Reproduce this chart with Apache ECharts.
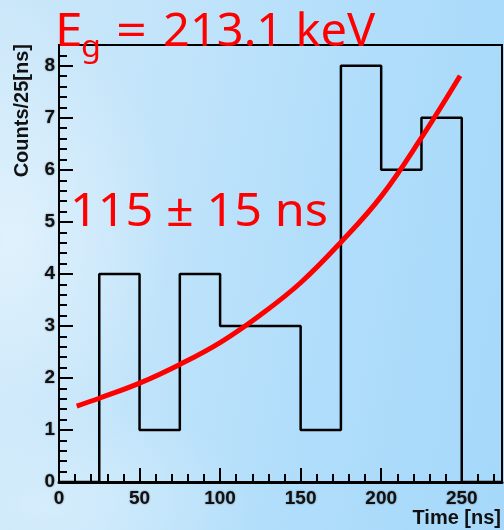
<!DOCTYPE html>
<html>
<head>
<meta charset="utf-8">
<title>Time spectrum</title>
<script src="https://cdn.jsdelivr.net/npm/echarts@6/dist/echarts.min.js"></script>
<style>
  html, body { margin: 0; padding: 0; }
  body {
    width: 504px; height: 530px; overflow: hidden;
    background:
      radial-gradient(ellipse 160px 240px at 10px 240px, rgba(232,245,253,0.75), rgba(232,245,253,0) 100%),
      radial-gradient(ellipse 200px 110px at 50px 505px, rgba(222,241,252,0.65), rgba(222,241,252,0) 100%),
      linear-gradient(100deg, #cbe7f9 0%, #c2e4fa 30%, #b2defb 60%, #a5d8fa 100%);
  }
  #chart { width: 504px; height: 530px; }
</style>
</head>
<body>
<div id="chart"></div>
<script>
// Histogram: counts per 25 ns bin, starting at 0 ns
const binStart = 0;
const binWidth = 25;
const counts = [0, 4, 1, 4, 3, 3, 1, 8, 6, 7, 0];

// Exponential fit curve, sampled along the time axis
const fitTimes  = [11,   25,   50,   75,   100,  125,  150,  175,  200,  225,  249];
const fitValues = [1.46, 1.61, 1.90, 2.26, 2.68, 3.21, 3.83, 4.61, 5.49, 6.62, 7.81];

// Axis ranges and tick steps
const xRange = [0, 275];
const yRange = [0, 8.4];
const xMajor = 50, xMinor = 10;
const yMajor = 1,  yMinor = 0.2;

const energyLabel = ['E', 'g', '=', '213.1 keV'];
const lifetimeLabel = '115 \u00b1 15 ns';
const xTitle = 'Time [ns]';
const yTitle = 'Counts/25[ns]';

// Step outline of the histogram
const histOutline = [];
counts.forEach((c, i) => {
  const lo = binStart + i * binWidth;
  histOutline.push([lo, c], [lo + binWidth, c]);
});
const fitData = fitTimes.map((t, i) => [t, fitValues[i]]);

const labelFont = {
  fontFamily: 'Liberation Sans, Arial, sans-serif',
  fontWeight: 'bold',
  fontSize: 19,
  color: '#111',
  textShadowColor: 'rgba(0,0,0,0.45)',
  textShadowBlur: 2
};
const redFont = '45px "Noto Sans", sans-serif';
const titleFont = 'bold 20px "Liberation Sans", Arial, sans-serif';

const chart = echarts.init(document.getElementById('chart'), null, { renderer: 'canvas' });

chart.setOption({
  animation: false,
  backgroundColor: 'transparent',
  grid: {
    left: 59, right: 2, top: 45, bottom: 48,
    show: true, borderColor: '#000', borderWidth: 2,
    backgroundColor: 'transparent'
  },
  xAxis: [
    {
      type: 'value', min: xRange[0], max: xRange[1], interval: xMajor,
      position: 'bottom',
      axisLine: { show: true, onZero: false, lineStyle: { color: '#000', width: 3 } },
      axisTick: { show: true, inside: true, length: 14, lineStyle: { color: '#000', width: 2 } },
      axisLabel: Object.assign({ margin: 7, showMaxLabel: false }, labelFont),
      splitLine: { show: false }
    },
    {
      type: 'value', min: xRange[0], max: xRange[1], interval: xMinor,
      position: 'bottom',
      axisLine: { show: false, onZero: false },
      axisTick: { show: true, inside: true, length: 8, lineStyle: { color: '#000', width: 2 } },
      axisLabel: { show: false },
      splitLine: { show: false }
    }
  ],
  yAxis: [
    {
      type: 'value', min: yRange[0], max: yRange[1], interval: yMajor,
      position: 'left',
      axisLine: { show: true, onZero: false, lineStyle: { color: '#000', width: 2 } },
      axisTick: { show: true, inside: true, length: 14, lineStyle: { color: '#000', width: 2 } },
      axisLabel: Object.assign({ margin: 4, showMaxLabel: false }, labelFont),
      splitLine: { show: false }
    },
    {
      type: 'value', min: yRange[0], max: yRange[1], interval: yMinor,
      position: 'left',
      axisLine: { show: false, onZero: false },
      axisTick: { show: true, inside: true, length: 8, lineStyle: { color: '#000', width: 2 } },
      axisLabel: { show: false },
      splitLine: { show: false }
    }
  ],
  series: [
    {
      name: 'counts',
      type: 'line',
      xAxisIndex: 0, yAxisIndex: 0,
      data: histOutline,
      showSymbol: false,
      lineStyle: { color: '#000', width: 2.5 },
      z: 3
    },
    {
      name: 'fit',
      type: 'line',
      xAxisIndex: 0, yAxisIndex: 0,
      data: fitData,
      smooth: 0.4,
      showSymbol: false,
      lineStyle: { color: '#ff0000', width: 5 },
      z: 4
    }
  ],
  graphic: [
    {
      type: 'text', x: 22, y: 44, rotation: Math.PI / 2, z: 10,
      style: {
        text: yTitle, align: 'right', verticalAlign: 'middle',
        font: titleFont, fill: '#111', shadowColor: 'rgba(0,0,0,0.4)', shadowBlur: 2
      }
    },
    {
      type: 'text', x: 501, y: 528, z: 10,
      style: {
        text: xTitle, align: 'right', verticalAlign: 'bottom',
        font: titleFont, fill: '#111', shadowColor: 'rgba(0,0,0,0.4)', shadowBlur: 2
      }
    },
    // E_g = 213.1 keV
    {
      type: 'text', x: 55, y: 56, scaleX: 1.1, z: 10,
      style: { text: energyLabel[0], align: 'left', verticalAlign: 'bottom', font: redFont, fill: '#ff0000' }
    },
    {
      type: 'text', x: 81, y: 63, scaleX: 1.08, z: 10,
      style: { text: energyLabel[1], align: 'left', verticalAlign: 'bottom', font: '30px "Noto Sans", sans-serif', fill: '#ff0000' }
    },
    {
      type: 'text', x: 116, y: 56, scaleX: 1.2, z: 10,
      style: { text: energyLabel[2], align: 'left', verticalAlign: 'bottom', font: redFont, fill: '#ff0000' }
    },
    {
      type: 'text', x: 163, y: 56, scaleX: 1.045, z: 10,
      style: { text: energyLabel[3], align: 'left', verticalAlign: 'bottom', font: redFont, fill: '#ff0000' }
    },
    // lifetime
    {
      type: 'text', x: 70, y: 236, scaleX: 1.08, z: 10,
      style: { text: lifetimeLabel, align: 'left', verticalAlign: 'bottom', font: redFont, fill: '#ff0000' }
    }
  ]
});
</script>
</body>
</html>
